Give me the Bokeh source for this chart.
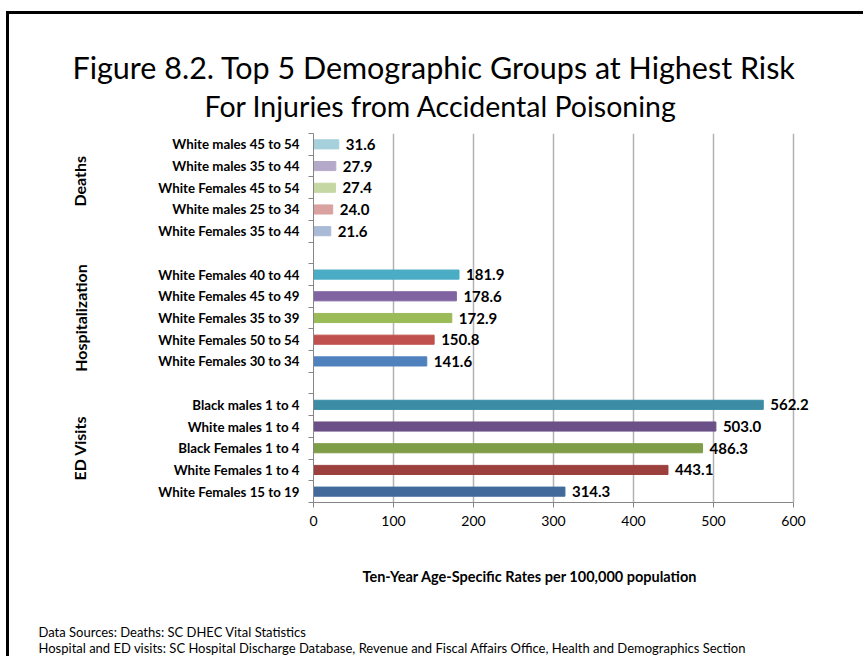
from bokeh.plotting import figure
from bokeh.models import (ColumnDataSource, LabelSet, FixedTicker, Range1d,
                          LinearAxis, Title)
from bokeh.core.properties import value
from bokeh.embed import file_html
from bokeh.resources import INLINE

# ---- data ----
groups = ["Deaths", "Hospitalization", "ED Visits"]
deaths_labels = ["White males 45 to 54", "White males 35 to 44", "White Females 45 to 54",
                 "White males 25 to 34", "White Females 35 to 44"]
deaths_values = [31.6, 27.9, 27.4, 24.0, 21.6]
hosp_labels = ["White Females 40 to 44", "White Females 45 to 49", "White Females 35 to 39",
               "White Females 50 to 54", "White Females 30 to 34"]
hosp_values = [181.9, 178.6, 172.9, 150.8, 141.6]
ed_labels = ["Black males 1 to 4", "White males 1 to 4", "Black Females 1 to 4",
             "White Females 1 to 4", "White Females 15 to 19"]
ed_values = [562.2, 503.0, 486.3, 443.1, 314.3]
x_ticks = [0, 100, 200, 300, 400, 500, 600]

deaths_colors = ["#a7d0dd", "#b5a9ca", "#c5d7a3", "#d9a1a0", "#a9bad7"]
hosp_colors = ["#4bacc6", "#8064a2", "#9bbb59", "#c0504d", "#4f81bd"]
ed_colors = ["#3b8ca4", "#6a5087", "#7f9c47", "#9c403d", "#426b9b"]

FONT = "Lato"

labels = deaths_labels + hosp_labels + ed_labels
values = deaths_values + hosp_values + ed_values
colors = deaths_colors + hosp_colors + ed_colors
# slot positions (top to bottom), one blank slot between groups
pos = list(range(0, 5)) + list(range(6, 11)) + list(range(12, 17))
group_pos = [1.7, 8, 14]
value_text = ["%.1f" % v for v in values]

src = ColumnDataSource(dict(y=pos, x=values, color=colors, txt=value_text))

W, H = 857, 645
FL, FT, FW, FH = 304, 119, 512, 369
FRAME_LEFT = 313  # page x of the frame's left edge
p = figure(width=W, height=H, output_backend="svg", toolbar_location=None,
           x_range=Range1d(0, 640), y_range=Range1d(16.5, -0.5),
           min_border_left=FL, min_border_right=W - FL - FW,
           min_border_top=FT, min_border_bottom=H - FT - FH)
p.styles = {"margin-left": "9px", "margin-top": "14px",
            "box-shadow": "-3px -3px 0px 0px black"}
p.outline_line_color = None
p.background_fill_color = "white"

p.hbar(y="y", right="x", left=0, height=0.42, color="color", source=src)

p.add_layout(LabelSet(x="x", y="y", text="txt", source=src, x_offset=7,
                      text_font=value(FONT), text_font_style="bold",
                      text_font_size="15px", text_baseline="middle",
                      text_color="black"))

# y axis (category labels + boundary ticks)
yax = p.yaxis[0]
yax.ticker = FixedTicker(ticks=pos, minor_ticks=[i - 0.5 for i in range(18)])
yax.major_label_overrides = {p_: l for p_, l in zip(pos, labels)}
yax.major_tick_out = 0
yax.major_tick_in = 0
yax.minor_tick_out = 5
yax.minor_tick_in = 0
yax.minor_tick_line_color = "#868686"
yax.axis_line_color = "#868686"
yax.major_label_standoff = 9
yax.major_label_text_font = FONT
yax.major_label_text_font_style = "bold"
yax.major_label_text_font_size = "13.3px"
yax.major_label_text_color = "black"

# group axis (rotated group names)
gax = LinearAxis(ticker=FixedTicker(ticks=group_pos, minor_ticks=[]),
                 major_label_overrides={g_: g for g_, g in zip(group_pos, groups)},
                 major_label_orientation="vertical",
                 axis_line_color=None, major_tick_line_color=None,
                 minor_tick_line_color=None, major_label_standoff=60,
                 major_label_text_font=FONT, major_label_text_font_style="bold",
                 major_label_text_font_size="16px", major_label_text_color="black")
p.add_layout(gax, "left")

# x axis
xax = p.xaxis[0]
xax.ticker = FixedTicker(ticks=x_ticks, minor_ticks=[])
xax.bounds = (0, 600)
xax.major_tick_out = 5
xax.major_tick_in = 0
xax.major_tick_line_color = "#868686"
xax.axis_line_color = "#868686"
xax.major_label_text_font = FONT
xax.major_label_text_font_size = "14px"
xax.major_label_text_color = "black"
xax.major_label_standoff = 8

p.ygrid.grid_line_color = None
p.xgrid.ticker = FixedTicker(ticks=x_ticks[1:])
p.xgrid.grid_line_color = "#b3b3b3"
p.xgrid.grid_line_width = 1.5

# titles (left aligned, offsets relative to the frame's left edge)
p.add_layout(Title(text="For Injuries from Accidental Poisoning", align="left",
                   offset=204 - FRAME_LEFT, text_font=FONT, text_font_size="28.5px",
                   text_font_style="normal", text_color="black", standoff=21), "above")
p.add_layout(Title(text="Figure 8.2. Top 5 Demographic Groups at Highest Risk",
                   align="left", offset=72 - FRAME_LEFT, text_font=FONT,
                   text_font_size="30.5px", text_font_style="normal",
                   text_color="black", standoff=-16), "above")

# axis title and source notes
p.add_layout(Title(text="Ten-Year Age-Specific Rates per 100,000 population",
                   align="left", offset=362 - FRAME_LEFT, text_font=FONT,
                   text_font_size="14.5px", text_font_style="bold",
                   text_color="black", standoff=74), "below")
p.add_layout(Title(text="Data Sources:  Deaths:  SC DHEC Vital Statistics",
                   align="left", offset=38 - FRAME_LEFT, text_font=FONT,
                   text_font_size="13px", text_font_style="normal",
                   text_color="black", standoff=0), "below")
p.add_layout(Title(text="Hospital and ED visits:  SC Hospital Discharge Database, Revenue and Fiscal Affairs Office, Health and Demographics Section",
                   align="left", offset=38 - FRAME_LEFT, text_font=FONT,
                   text_font_size="13px", text_font_style="normal",
                   text_color="black", standoff=-4), "below")

open("out.html", "w").write(file_html(p, INLINE))
